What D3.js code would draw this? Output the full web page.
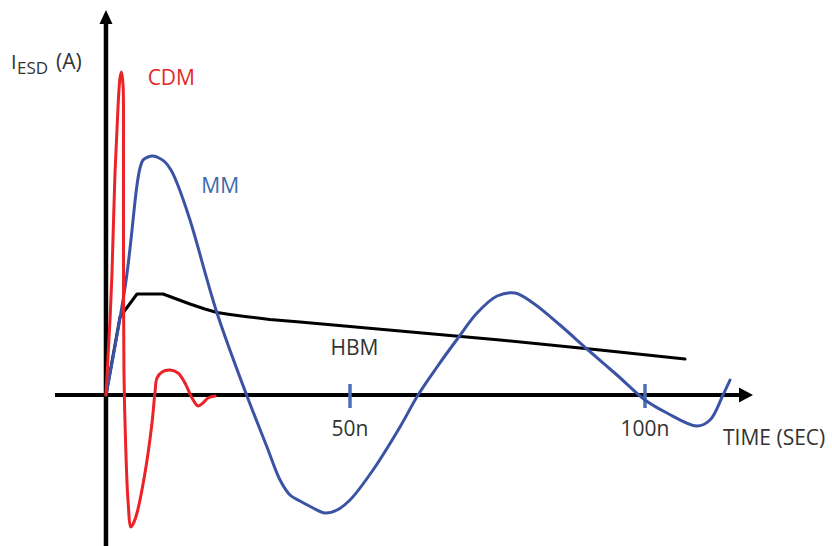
<!DOCTYPE html>
<html>
<head>
<meta charset="utf-8">
<script src="https://cdn.jsdelivr.net/npm/d3@7"></script>
<style>
  html, body { margin: 0; padding: 0; background: #fff; }
  svg { display: block; }
  text { font-family: "Open Sans", "Noto Sans", sans-serif; }
</style>
</head>
<body>
<svg id="chart" width="832" height="546"></svg>
<script>
// ---- data (time in ns, current in arbitrary units) ----
const xTickValues = [50, 100];
const xTickLabels = ["50n", "100n"];
const yAxisTime = 8.64;           // where the current axis crosses the time axis

const cdmTime = [8.64, 8.98, 9.32, 9.66, 10.17, 10.68, 11.02, 11.27, 11.53, 11.61, 11.61, 11.69, 11.95, 12.37, 12.88, 13.39, 13.9, 15.25, 16.44, 16.95, 17.29, 18.14, 19.49, 20.85, 22.03, 23.22, 24.24, 25.08, 25.93, 27.12];
const cdmCurrent = [0, 3.8, 7.5, 12.2, 22.2, 28.8, 31.7, 32.3, 31.0, 24.5, 14.5, 2.2, -4.5, -10.5, -13.2, -12.7, -11.8, -7.8, -2.8, 0.3, 1.7, 2.3, 2.5, 2.2, 1.2, -0.3, -1.1, -0.8, -0.3, -0.1];

const mmTime = [8.64, 12.03, 13.9, 14.41, 14.92, 15.76, 16.61, 17.63, 18.64, 19.66, 20.68, 22.88, 27.46, 32.54, 35.93, 38.14, 39.83, 41.53, 43.73, 45.76, 47.8, 50.0, 53.9, 58.47, 61.53, 64.75, 68.31, 71.53, 74.92, 77.97, 81.02, 85.59, 90.17, 95.25, 100, 103.73, 108.81, 111.02, 113.22, 114.41];
const mmCurrent = [0, 11.4, 21.0, 22.7, 23.5, 23.8, 23.9, 23.7, 23.3, 22.5, 21.2, 17.5, 8.2, -0.1, -5.2, -8.5, -10.0, -10.6, -11.3, -11.8, -11.5, -10.5, -7.5, -3.2, 0, 2.8, 5.7, 8.2, 9.9, 10.2, 9.2, 7.0, 4.6, 2.0, -0.5, -1.8, -3.1, -2.5, 0, 1.5];

const hbmTime = [8.64, 11.02, 13.9, 18.31, 22.88, 25.4, 27.46, 29.66, 32.2, 36.4, 41.53, 58.47, 75.42, 92.37, 106.78];
const hbmCurrent = [0, 7.8, 10.1, 10.1, 9.1, 8.6, 8.25, 8.05, 7.85, 7.55, 7.3, 6.4, 5.5, 4.5, 3.6];

const seriesNames = ["CDM", "MM", "HBM"];
const seriesColors = ["#ec2227", "#3b53a5", "#000000"];
const labelColors = ["#e8262b", "#3d6aab", "#333333"];

// ---- scales ----
const svg = d3.select("#chart");
const x = d3.scaleLinear().domain([0, 100]).range([55, 645]);
const y = d3.scaleLinear().domain([-15.1, 38.5]).range([546, 10]);

const xEnd = 118.3;   // time at arrow tip

// ---- axes ----
const axes = svg.append("g");
// time axis
axes.append("line")
  .attr("x1", x(0)).attr("x2", x(xEnd) - 10)
  .attr("y1", y(0)).attr("y2", y(0))
  .attr("stroke", "#000").attr("stroke-width", 4);
axes.append("path")
  .attr("d", `M${x(xEnd)},${y(0)} L${x(xEnd) - 14},${y(0) - 7.5} L${x(xEnd) - 14},${y(0) + 7.5} Z`)
  .attr("fill", "#000");
// current axis
axes.append("line")
  .attr("x1", x(yAxisTime)).attr("x2", x(yAxisTime))
  .attr("y1", y(-15.1)).attr("y2", y(38.5) + 10)
  .attr("stroke", "#000").attr("stroke-width", 4.5);
axes.append("path")
  .attr("d", `M${x(yAxisTime)},${y(38.5)} L${x(yAxisTime) - 6.5},${y(38.5) + 14} L${x(yAxisTime) + 6.5},${y(38.5) + 14} Z`)
  .attr("fill", "#000");

// ticks
xTickValues.forEach((t, i) => {
  axes.append("line")
    .attr("x1", x(t)).attr("x2", x(t))
    .attr("y1", y(0) - 11).attr("y2", y(0) + 13)
    .attr("stroke", "#4a70b8").attr("stroke-width", 3.5);
  axes.append("text")
    .attr("x", x(t)).attr("y", y(0) + 41)
    .attr("text-anchor", "middle")
    .attr("font-size", 21).attr("fill", "#333")
    .text(xTickLabels[i]);
});

// axis titles
axes.append("text")
  .attr("x", 723).attr("y", 445)
  .attr("font-size", 21).attr("fill", "#333")
  .text("TIME (SEC)");

const yt = axes.append("text").attr("fill", "#333");
yt.append("tspan").attr("x", 11).attr("y", 69).attr("font-size", 20).text("I");
yt.append("tspan").attr("x", 17).attr("y", 74).attr("font-size", 17).text("ESD");
yt.append("tspan").attr("x", 56).attr("y", 69).attr("font-size", 21).text("(A)");

// ---- curves ----
const series = [
  { t: cdmTime, v: cdmCurrent, curve: d3.curveCatmullRom.alpha(0.5) },
  { t: mmTime, v: mmCurrent, curve: d3.curveCatmullRom.alpha(0.5) },
  { t: hbmTime, v: hbmCurrent, curve: d3.curveLinear }
];

// draw HBM first, then MM, then CDM on top
[2, 1, 0].forEach(i => {
  const s = series[i];
  const pts = s.t.map((t, k) => [t, s.v[k]]);
  const line = d3.line().x(d => x(d[0])).y(d => y(d[1])).curve(s.curve);
  svg.append("path")
    .attr("d", line(pts))
    .attr("fill", "none")
    .attr("stroke", seriesColors[i])
    .attr("stroke-width", 3)
    .attr("stroke-linejoin", "round")
    .attr("stroke-linecap", "round");
});

// ---- series labels ----
const labelPos = [[15.7, 31.0], [24.8, 20.2], [46.7, 4.0]];
seriesNames.forEach((n, i) => {
  svg.append("text")
    .attr("x", x(labelPos[i][0])).attr("y", y(labelPos[i][1]))
    .attr("font-size", 21).attr("fill", labelColors[i])
    .text(n);
});
</script>
</body>
</html>
